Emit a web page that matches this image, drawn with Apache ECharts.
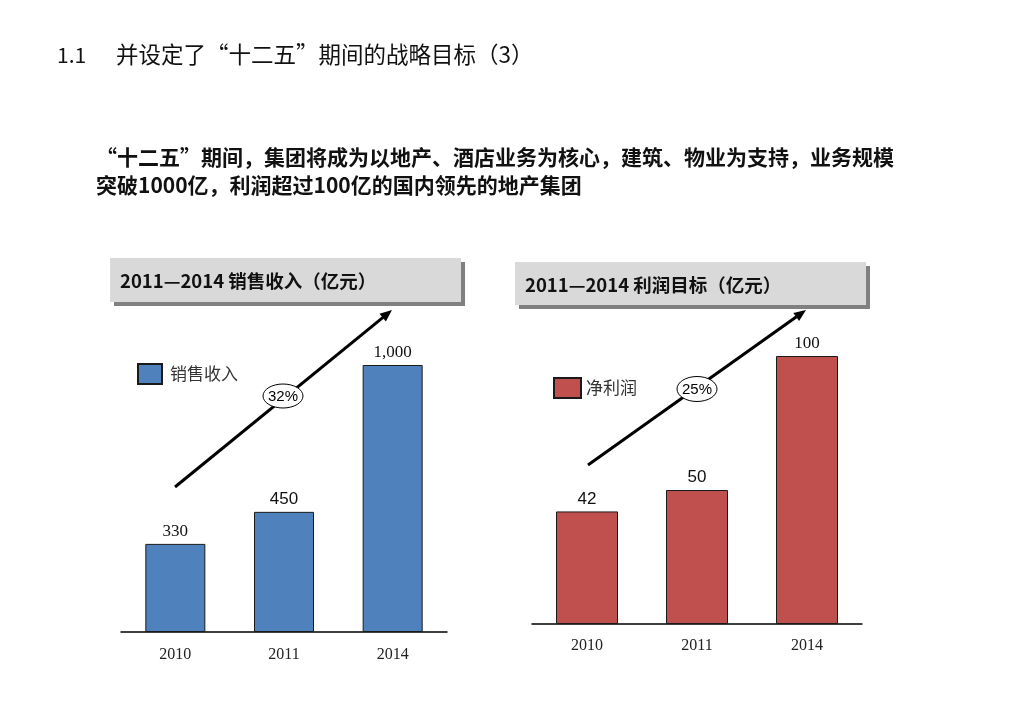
<!DOCTYPE html>
<html><head><meta charset="utf-8">
<script src="https://cdn.jsdelivr.net/npm/echarts@6/dist/echarts.min.js"></script>
<style>html,body{margin:0;padding:0;background:#fff}#c{width:1024px;height:709px}</style>
</head><body><div id="c"></div>
<script>
const categories = ['2010', '2011', '2014'];
const salesValues = [330, 450, 1000];
const profitValues = [42, 50, 100];
const salesLabels = ['330', '450', '1,000'];
const profitLabels = ['42', '50', '100'];
const salesLabelSerif = [true, false, true];
const profitLabelSerif = [false, false, true];
const salesName = '销售收入';
const profitName = '净利润';
const salesGrowth = '32%';
const profitGrowth = '25%';

const CJK = '"Noto Sans CJK SC", "Noto Sans", sans-serif';
const SERIF = '"Liberation Serif", "DejaVu Serif", serif';
const SANS = '"Liberation Sans", Arial, sans-serif';

function labelData(values, labels, serif) {
  return values.map((v, i) => ({
    value: v,
    label: {
      formatter: labels[i],
      fontFamily: serif[i] ? SERIF : SANS,
      fontSize: 17,
      color: '#111'
    }
  }));
}

function arrow(x1, y1, x2, y2) {
  const dx = x2 - x1, dy = y2 - y1, L = Math.hypot(dx, dy);
  const ux = dx / L, uy = dy / L, px = -uy, py = ux;
  const hl = 12, hw = 5;
  const bx = x2 - ux * hl, by = y2 - uy * hl;
  return [
    { type: 'line', shape: { x1, y1, x2: bx + ux * 2, y2: by + uy * 2 }, style: { stroke: '#000', lineWidth: 3 } },
    { type: 'polygon', shape: { points: [[x2, y2], [bx + px * hw, by + py * hw], [bx - px * hw, by - py * hw]] }, style: { fill: '#000' } }
  ];
}

function badge(cx, cy, rx, ry, text) {
  return [
    { type: 'ellipse', shape: { cx, cy, rx, ry }, style: { fill: '#fff', stroke: '#000', lineWidth: 1 }, z: 10 },
    { type: 'text', x: cx, y: cy + 1, style: { text, fontSize: 15, fontFamily: '"Liberation Sans Narrow", "Liberation Sans", sans-serif', fill: '#000', align: 'center', verticalAlign: 'middle' }, z: 11 }
  ];
}

function headerBox(x, y, w, h, text) {
  return [
    { type: 'rect', shape: { x, y, width: w, height: h }, style: { fill: '#D9D9D9', shadowColor: '#808080', shadowOffsetX: 4, shadowOffsetY: 4, shadowBlur: 0 } },
    { type: 'text', x: x + 10, y: y + h / 2 + 1, style: { text, fontSize: 18.5, fontWeight: 'bold', fontFamily: CJK, fill: '#111', verticalAlign: 'middle' } }
  ];
}

const chart = echarts.init(document.getElementById('c'));
const option = {
  backgroundColor: '#fff',
  animation: false,
  grid: [
    { left: 121, width: 326, top: 365, bottom: 77 },
    { left: 532, width: 330, top: 356, bottom: 85 }
  ],
  xAxis: [0, 1].map(i => ({
    type: 'category', gridIndex: i, data: categories,
    axisLine: { lineStyle: { color: '#000', width: 1.5 } },
    axisTick: { show: false },
    axisLabel: { fontFamily: SERIF, fontSize: 16, color: '#222', margin: i === 0 ? 15 : 14 }
  })),
  yAxis: [
    { type: 'value', gridIndex: 0, min: 0, max: 1000, show: false },
    { type: 'value', gridIndex: 1, min: 0, max: 100, show: false }
  ],
  legend: [
    { data: [salesName], left: 137, top: 363, padding: 0, itemWidth: 24, itemHeight: 20, icon: 'rect',
      textStyle: { fontFamily: CJK, fontSize: 17, color: '#333', padding: [0, 0, 0, 3] } },
    { data: [profitName], left: 553, top: 377, padding: 0, itemWidth: 27, itemHeight: 20, icon: 'rect',
      textStyle: { fontFamily: CJK, fontSize: 17, color: '#333', padding: [0, 0, 0, 0] } }
  ],
  series: [
    { name: salesName, type: 'bar', xAxisIndex: 0, yAxisIndex: 0, barWidth: 60,
      itemStyle: { color: '#4F81BD', borderColor: '#1a1a1a', borderWidth: 1 },
      label: { show: true, position: 'top', distance: 4 },
      data: labelData(salesValues, salesLabels, salesLabelSerif) },
    { name: profitName, type: 'bar', xAxisIndex: 1, yAxisIndex: 1, barWidth: 62,
      itemStyle: { color: '#C0504D', borderColor: '#1a1a1a', borderWidth: 1 },
      label: { show: true, position: 'top', distance: 4 },
      data: labelData(profitValues, profitLabels, profitLabelSerif) }
  ],
  graphic: [
    { type: 'text', left: 57, top: 45, style: { text: '1.1', fontSize: 21, fontFamily: CJK, fill: '#111' } },
    { type: 'text', left: 116, top: 43, style: { text: '并设定了“十二五”期间的战略目标（3）', fontSize: 22.5, fontFamily: CJK, fill: '#111' } },
    { type: 'text', left: 96, top: 143, style: { text: '“十二五”期间，集团将成为以地产、酒店业务为核心，建筑、物业为支持，业务规模\n突破1000亿，利润超过100亿的国内领先的地产集团', fontSize: 21, lineHeight: 28, fontWeight: 'bold', fontFamily: CJK, fill: '#111' } },
    ...headerBox(110, 258, 351, 44, '2011—2014 销售收入（亿元）'),
    ...headerBox(515, 262, 351, 43, '2011—2014 利润目标（亿元）'),
    ...arrow(175, 487, 392, 310),
    ...arrow(588, 465, 806, 310),
    ...badge(283, 396, 20, 12, salesGrowth),
    ...badge(697, 389, 20, 12.5, profitGrowth)
  ]
};
chart.setOption(option);
</script></body></html>
